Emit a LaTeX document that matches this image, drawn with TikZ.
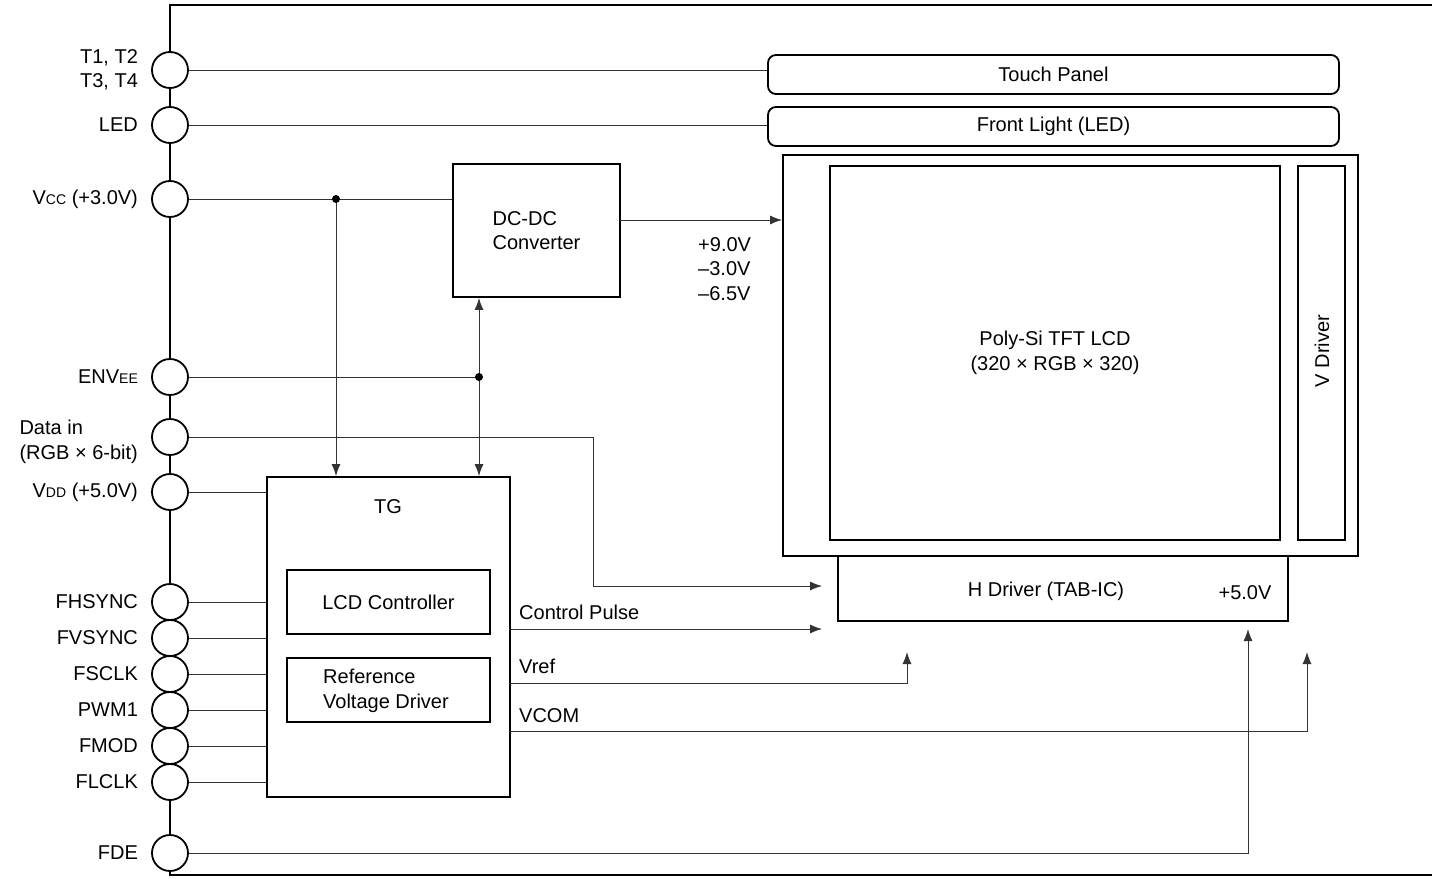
\documentclass[tikz,border=0pt]{standalone}
\usepackage{fontspec}
\setmainfont{Liberation Sans}
\usepackage{tikz}
\usetikzlibrary{arrows.meta, calc, positioning}

\newcommand{\lowcap}[1]{{\fontsize{14}{14}\selectfont #1}}

\begin{document}
\begin{tikzpicture}[x=1pt, y=-1pt,
    >={Latex[length=12pt, width=9pt]},
    font=\fontsize{20}{24.5}\selectfont,
    wire/.style={line width=1pt, black!80},
    block/.style={draw, line width=1.8pt, inner sep=0pt},
    panel/.style={block, rounded corners=8pt},
    pin/.style={circle, draw, line width=1.8pt, fill=white, minimum size=36pt, inner sep=0pt},
    pinlabel/.style={align=left, inner sep=0pt},
    dot/.style={circle, fill, inner sep=0pt, minimum size=8pt}]
    \useasboundingbox (0,0) rectangle (1432,878);

    % 1. Khung ngoai
    \draw[line width=2pt] (1432,5) -- (170,5) -- (170,875) -- (1432,875);

    % 2. Khoi man hinh
    \node[panel, minimum width=571pt, minimum height=39pt] (touch) at (1053.5,74.5) {Touch Panel};
    \node[panel, minimum width=571pt, minimum height=39pt] (front) at (1053.5,126.5) {Front Light (LED)};
    \node[block, minimum width=575pt, minimum height=401pt] (lcdframe) at (1070.5,355.5) {};
    \node[block, minimum width=450pt, minimum height=374pt, align=center] (lcd) at (1055,353) {Poly-Si TFT LCD\\(320 × RGB × 320)};
    \node[block, minimum width=47pt, minimum height=374pt] (vdrv) at (1321.5,353) {};
    \node[rotate=90] (vdrvtext) at (1322,351) {V Driver};
    \node[block, minimum width=450pt, minimum height=65pt] (hdrv) at (1063,588.5) {};
    \node (hdrvtext) at (1046,591) {H Driver (TAB-IC)};
    \node (hdrvvcc) at (1245,593) {+5.0V};

    % 3. DC-DC va TG
    \node[block, minimum width=167pt, minimum height=133pt, align=left] (dcdc) at (536.5,230.5) {DC-DC\\Converter};
    \node[anchor=west, align=left, inner sep=0pt] (vlist) at (698,269) {+9.0V\\–3.0V\\–6.5V};
    \node[block, minimum width=243pt, minimum height=320pt] (tg) at (388.5,637) {};
    \node (tgtext) at (388,507) {TG};
    \node[block, minimum width=203pt, minimum height=64pt] (lcdc) at (388.5,602) {LCD Controller};
    \node[block, minimum width=203pt, minimum height=64pt] (refv) at (388.5,690) {};
    \node[align=left] (refvtext) at (386,691) {Reference\\Voltage Driver};

    % 4. Chan tin hieu
    \foreach \y/\dy/\nm/\txt in {70/0/pT/{T1, T2\\T3, T4}, 125/0/pLED/LED, 199/0/pVcc/{V\lowcap{CC} (+3.0V)},
        377/0/pEN/{ENV\lowcap{EE}}, 437/-5/pData/{Data in\\(RGB × 6-bit)}, 492/0/pVdd/{V\lowcap{DD} (+5.0V)},
        602/0/pHs/FHSYNC, 638/0/pVs/FVSYNC, 674/0/pSclk/FSCLK, 710/0/pPwm/PWM1, 746/0/pMod/FMOD,
        782/0/pLclk/FLCLK, 853/0/pDe/FDE} {
        \node[pin, label={[pinlabel, label distance=13pt, yshift=\dy pt]left:{\txt}}] (\nm) at (170,\y) {};
    }

    % 5. Day noi
    \draw[wire] (pT.east) -- (pT.east -| touch.west);
    \draw[wire] (pLED.east) -- (pLED.east -| front.west);
    \coordinate (jVcc) at (336,199);
    \coordinate (jEN) at (479,377);
    \draw[wire] (pVcc.east) -- (pVcc.east -| dcdc.west);
    \draw[wire, ->] (jVcc) -- (jVcc |- tg.north);
    \draw[wire] (pEN.east) -- (jEN);
    \draw[wire, <->] (jEN |- dcdc.south) -- (jEN |- tg.north);
    \node[dot] (dVcc) at (jVcc) {};
    \node[dot] (dEN) at (jEN) {};
    \coordinate (dcOut) at (620,220);
    \draw[wire, ->] (dcOut) -- (dcOut -| lcdframe.west);
    \coordinate (dTurn) at (593,586);
    \draw[wire, ->] (pData.east) -| (dTurn) -- ([xshift=-15pt]dTurn -| hdrv.west);
    \foreach \nm in {pVdd, pHs, pVs, pSclk, pPwm, pMod, pLclk} {
        \draw[wire] (\nm.east) -- (\nm.east -| tg.west);
    }

    % 6. Ngo ra TG
    \coordinate (cpOut) at (510,629);
    \coordinate (vrefOut) at (510,683);
    \coordinate (vcomOut) at (510,731);
    \coordinate (vrefEnd) at (907,652);
    \coordinate (vcomEnd) at (1307,652);
    \coordinate (fdeEnd) at (1248,629);
    \draw[wire, ->] (cpOut) -- ([xshift=-15pt]cpOut -| hdrv.west);
    \draw[wire, ->] (vrefOut) -| (vrefEnd);
    \draw[wire, ->] (vcomOut) -| (vcomEnd);
    \draw[wire, ->] (pDe.east) -| (fdeEnd);
    \node[anchor=base west, inner sep=0pt] (cpText) at (519,619) {Control Pulse};
    \node[anchor=base west, inner sep=0pt] (vrefText) at (519,673) {Vref};
    \node[anchor=base west, inner sep=0pt] (vcomText) at (519,722) {VCOM};
\end{tikzpicture}
\end{document}
